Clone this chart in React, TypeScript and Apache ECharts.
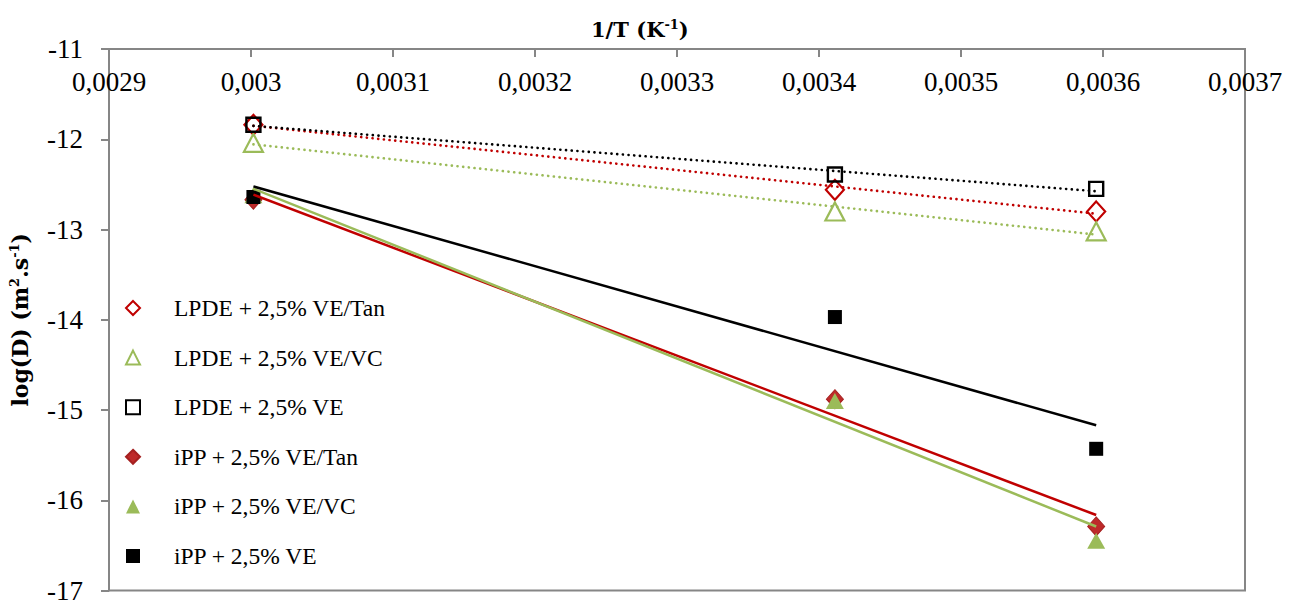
import React, { useEffect, useRef } from "react";
import * as echarts from "echarts";

const xValues = [0.0030017, 0.0034112, 0.0035952];
const seriesNames = [
  "LPDE + 2,5% VE/Tan",
  "LPDE + 2,5% VE/VC",
  "LPDE + 2,5% VE",
  "iPP + 2,5% VE/Tan",
  "iPP + 2,5% VE/VC",
  "iPP + 2,5% VE",
];
const ldpeTan = [-11.84, -12.56, -12.8];
const ldpeVC = [-12.04, -12.8, -13.02];
const ldpeVE = [-11.84, -12.39, -12.55];
const ippTan = [-12.67, -14.88, -16.29];
const ippVC = [-12.62, -14.9, -16.45];
const ippVE = [-12.64, -13.97, -15.43];
const allValues = [ldpeTan, ldpeVC, ldpeVE, ippTan, ippVC, ippVE];

const RED = "#C00000";
const GREEN = "#9BBB59";
const BLACK = "#000000";
const GRAY = "#868686";
const SERIF = "'Liberation Serif', serif";
const BOLDSERIF = "'DejaVu Serif', serif";

function trend(xs: number[], ys: number[]) {
  const n = xs.length;
  const mx = xs.reduce((a, b) => a + b, 0) / n;
  const my = ys.reduce((a, b) => a + b, 0) / n;
  let sxy = 0;
  let sxx = 0;
  for (let i = 0; i < n; i++) {
    sxy += (xs[i] - mx) * (ys[i] - my);
    sxx += (xs[i] - mx) * (xs[i] - mx);
  }
  const k = sxy / sxx;
  const x0 = Math.min(...xs);
  const x1 = Math.max(...xs);
  return [
    [x0, my + k * (x0 - mx)],
    [x1, my + k * (x1 - mx)],
  ];
}

const styles = [
  { symbol: "diamond", size: [18, 20], item: { color: "rgba(0,0,0,0)", borderColor: RED, borderWidth: 2.2, opacity: 1 }, line: RED, dotted: true },
  { symbol: "triangle", size: [19, 18], item: { color: "rgba(0,0,0,0)", borderColor: GREEN, borderWidth: 2.2, opacity: 1 }, line: GREEN, dotted: true },
  { symbol: "rect", size: [14, 14], item: { color: "rgba(0,0,0,0)", borderColor: BLACK, borderWidth: 2.4, opacity: 1 }, line: BLACK, dotted: true },
  { symbol: "diamond", size: [17, 19], item: { color: "#BE2A2A", borderColor: "#A52020", borderWidth: 1, opacity: 1 }, line: RED, dotted: false },
  { symbol: "triangle", size: [18, 16], item: { color: GREEN, borderColor: GREEN, borderWidth: 0, opacity: 1 }, line: GREEN, dotted: false },
  { symbol: "rect", size: [14, 14], item: { color: BLACK, borderColor: BLACK, borderWidth: 0, opacity: 1 }, line: BLACK, dotted: false },
];

const supStyle = {
  fontFamily: BOLDSERIF,
  fontWeight: "bold",
  fontSize: 13,
  verticalAlign: "top",
  padding: [0, 0, 10, 0],
  color: "#000",
};

export default function App() {
  const ref = useRef<HTMLDivElement>(null);
  useEffect(() => {
    if (!ref.current) return;
    const chart = echarts.init(ref.current, undefined, { renderer: "svg" });
    const scatterSeries = seriesNames.map((name, i) => ({
      name,
      type: "scatter",
      data: xValues.map((x, j) => [x, allValues[i][j]]),
      symbol: styles[i].symbol,
      symbolSize: styles[i].size,
      itemStyle: styles[i].item,
      z: 2 + i * 0.1,
    }));
    const lineSeries = seriesNames.map((name, i) => ({
      name: name + " trend",
      type: "line",
      data: trend(xValues, allValues[i]),
      symbol: "none",
      silent: true,
      lineStyle: styles[i].dotted
        ? { color: styles[i].line, width: 2.6, type: [0.1, 5.6], cap: "round" }
        : { color: styles[i].line, width: 2.5 },
      z: 4,
    }));
    chart.setOption({
      animation: false,
      backgroundColor: "#ffffff",
      title: {
        text: "1/T (K{sup|-1})",
        left: 586,
        top: 13,
        textStyle: {
          fontFamily: BOLDSERIF,
          fontWeight: "bold",
          fontSize: 21,
          color: "#000",
          rich: { sup: supStyle },
        },
      },
      grid: {
        left: 108,
        top: 49,
        right: 51,
        bottom: 12,
        show: true,
        borderColor: GRAY,
        borderWidth: 2,
      },
      legend: {
        orient: "vertical",
        left: 120,
        top: 291,
        itemWidth: 14,
        itemHeight: 14,
        itemGap: 25.6,
        data: seriesNames,
        textStyle: {
          fontFamily: SERIF,
          fontSize: 23.5,
          color: "#000",
          lineHeight: 24,
          padding: [0, 0, 0, 29],
        },
      },
      xAxis: {
        type: "value",
        position: "top",
        min: 0.0029,
        max: 0.0037,
        interval: 0.0001,
        axisLine: { show: true, lineStyle: { color: GRAY, width: 2 } },
        axisTick: { show: true, inside: true, length: 8, lineStyle: { color: GRAY, width: 2 } },
        splitLine: { show: false },
        axisLabel: {
          inside: true,
          margin: 19,
          fontFamily: SERIF,
          fontSize: 27,
          color: "#000",
          formatter: (v: number) => String(parseFloat(v.toFixed(4))).replace(".", ","),
        },
      },
      yAxis: {
        type: "value",
        min: -17,
        max: -11,
        interval: 1,
        name: "log(D) (m{sup|2}.s{sup|-1})",
        nameLocation: "middle",
        nameGap: 78,
        nameRotate: 90,
        nameTextStyle: {
          fontFamily: BOLDSERIF,
          fontWeight: "bold",
          fontSize: 22,
          color: "#000",
          rich: { sup: supStyle },
        },
        axisLine: { show: true, lineStyle: { color: GRAY, width: 2 } },
        axisTick: { show: true, inside: false, length: 8, lineStyle: { color: GRAY, width: 2 } },
        splitLine: { show: false },
        axisLabel: {
          margin: 26,
          fontFamily: SERIF,
          fontSize: 27,
          color: "#000",
        },
      },
      series: [...scatterSeries, ...lineSeries],
    });
    return () => chart.dispose();
  }, []);
  return (
    <div
      ref={ref}
      style={{ position: "fixed", left: 0, top: 0, width: 1296, height: 604, background: "#fff" }}
    />
  );
}
